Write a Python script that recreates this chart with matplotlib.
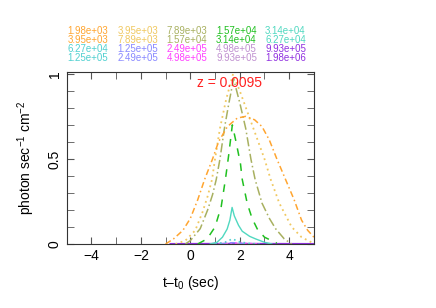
import numpy as np
import matplotlib
matplotlib.use('Agg')
import matplotlib.pyplot as plt
from matplotlib.ticker import MultipleLocator

plt.rcParams['font.family'] = ['Liberation Sans', 'DejaVu Sans']
plt.rcParams['mathtext.fontset'] = 'custom'
plt.rcParams['mathtext.rm'] = 'Liberation Sans'
plt.rcParams['mathtext.it'] = 'Liberation Sans'

# bandas de energia (limites inferior / superior)
banda_baja = ['1.98e+03', '3.95e+03', '7.89e+03', '1.57e+04', '3.14e+04',
              '6.27e+04', '1.25e+05', '2.49e+05', '4.98e+05', '9.93e+05']
banda_alta = ['3.95e+03', '7.89e+03', '1.57e+04', '3.14e+04', '6.27e+04',
              '1.25e+05', '2.49e+05', '4.98e+05', '9.93e+05', '1.98e+06']
colores = ['#ffa530', '#f0c860', '#a8b060', '#20c020', '#50d8c0',
           '#50d0d0', '#8888ff', '#ff40ff', '#c090d0', '#9030e0']
estilos = [(0, (4, 2, 1, 2)), (0, (1, 2)), (0, (6, 2, 1, 2)), (0, (5, 5)), '-',
           (0, (1, 2)), (0, (4, 3)), (0, (1, 2)), (0, (4, 2, 1, 2)), '-']
grosor = [1.1, 1.3, 1.1, 1.1, 1.0, 1.2, 1.0, 1.2, 1.0, 1.5]

# curvas de luz
t1 = [-1.0, -0.68, -0.3, 0.0, 0.3, 0.58, 0.9, 1.14, 1.5, 1.9, 2.24, 2.6, 2.9, 3.2, 3.5, 3.85, 4.2, 4.5, 4.75, 5.0]
f1 = [0.0, 0.03, 0.08, 0.15, 0.26, 0.38, 0.5, 0.6, 0.69, 0.74, 0.75, 0.73, 0.69, 0.61, 0.5, 0.38, 0.26, 0.14, 0.08, 0.04]
t2 = [-0.6, -0.2, 0.2, 0.5, 0.7, 0.88, 1.0, 1.2, 1.45, 1.73, 2.0, 2.3, 2.6, 3.0, 3.25, 3.6, 4.1, 4.5, 4.9]
f2 = [0.0, 0.02, 0.08, 0.19, 0.28, 0.38, 0.5, 0.68, 0.85, 1.0, 0.9, 0.78, 0.66, 0.5, 0.38, 0.24, 0.1, 0.04, 0.01]
t3 = [-0.2, 0.0, 0.4, 0.7, 0.9, 1.05, 1.2, 1.38, 1.55, 1.75, 2.0, 2.24, 2.45, 2.62, 2.9, 3.2, 3.46, 3.8, 4.1]
f3 = [0.0, 0.02, 0.09, 0.2, 0.29, 0.38, 0.5, 0.68, 0.82, 0.97, 0.83, 0.68, 0.5, 0.38, 0.24, 0.15, 0.088, 0.03, 0.0]
t4 = [0.3, 0.68, 1.0, 1.25, 1.42, 1.55, 1.7, 1.85, 2.03, 2.1, 2.3, 2.5, 2.71, 3.0, 3.5]
f4 = [0.0, 0.03, 0.1, 0.22, 0.38, 0.52, 0.70, 0.6, 0.47, 0.38, 0.24, 0.15, 0.088, 0.04, 0.005]
t5 = [0.8, 1.08, 1.3, 1.49, 1.6, 1.69, 1.78, 1.95, 2.1, 2.4, 2.64, 3.0, 3.3]
f5 = [0.0, 0.01, 0.04, 0.088, 0.14, 0.215, 0.165, 0.11, 0.075, 0.045, 0.03, 0.01, 0.0]
t6 = [1.0, 1.4, 1.7, 2.0, 2.4, 2.8]
f6 = [0.0, 0.01, 0.03, 0.012, 0.003, 0.0]
t7 = [1.2, 1.7, 2.4]
f7 = [0.0, 0.008, 0.0]
t8 = [0.8, 1.7, 2.8]
f8 = [0.0, 0.006, 0.0]
t9 = [0.8, 1.7, 2.8]
f9 = [0.0, 0.003, 0.0]
t10 = [-0.8, 1.7, 5.0]
f10 = [0.0, 0.001, 0.0]

tiempos = [t1, t2, t3, t4, t5, t6, t7, t8, t9, t10]
flujos = [f1, f2, f3, f4, f5, f6, f7, f8, f9, f10]

fig = plt.figure(figsize=(4.36, 3.08), dpi=100)
ax = fig.add_axes([0.153, 0.2078, 0.567, 0.558])

# dibujar de la banda mas alta a la mas baja
for i in reversed(range(10)):
    ax.plot(tiempos[i], flujos[i], color=colores[i], linestyle=estilos[i], lw=grosor[i])

ax.set_xlim(-5, 5)
ax.set_ylim(0, 1.01)
ax.xaxis.set_major_locator(MultipleLocator(2))
ax.xaxis.set_minor_locator(MultipleLocator(1))
ax.yaxis.set_major_locator(MultipleLocator(0.5))
ax.yaxis.set_minor_locator(MultipleLocator(0.1))
ax.tick_params(which='both', direction='in', top=True, right=True, length=5,
               color='#555555', labelsize=10)
ax.set_yticks([0, 0.5, 1])
ax.set_yticklabels(['0', '0.5', '1'], rotation=90, va='center')
ax.set_xticks([-4, -2, 0, 2, 4])
ax.set_xticklabels(['\u22124', '\u22122', '0', '2', '4'])
for s in ax.spines.values():
    s.set_color('#333333')
    s.set_linewidth(0.8)

ax.set_xlabel('t\u2013t$_0$ (sec)', fontsize=10, labelpad=8)
ax.set_ylabel('photon sec$^{-1}$ cm$^{-2}$', fontsize=10, labelpad=8)
ax.text(0.66, 0.935, 'z = 0.0095', color='#ff2020', fontsize=10,
        ha='center', va='center', transform=ax.transAxes)

# leyenda de bandas como texto
col_x = [67.3, 117.3, 166.7, 216, 265]
fila_y = [31.5, 40.0, 49.0, 57.7]
for i in range(10):
    c = i % 5
    f = 0 if i < 5 else 2
    fig.text(col_x[c] / 436, 1 - fila_y[f] / 308, banda_baja[i], color=colores[i],
             fontsize=7, va='center', ha='left')
    fig.text(col_x[c] / 436, 1 - fila_y[f + 1] / 308, banda_alta[i], color=colores[i],
             fontsize=7, va='center', ha='left')

fig.savefig('out.png', dpi=100)
